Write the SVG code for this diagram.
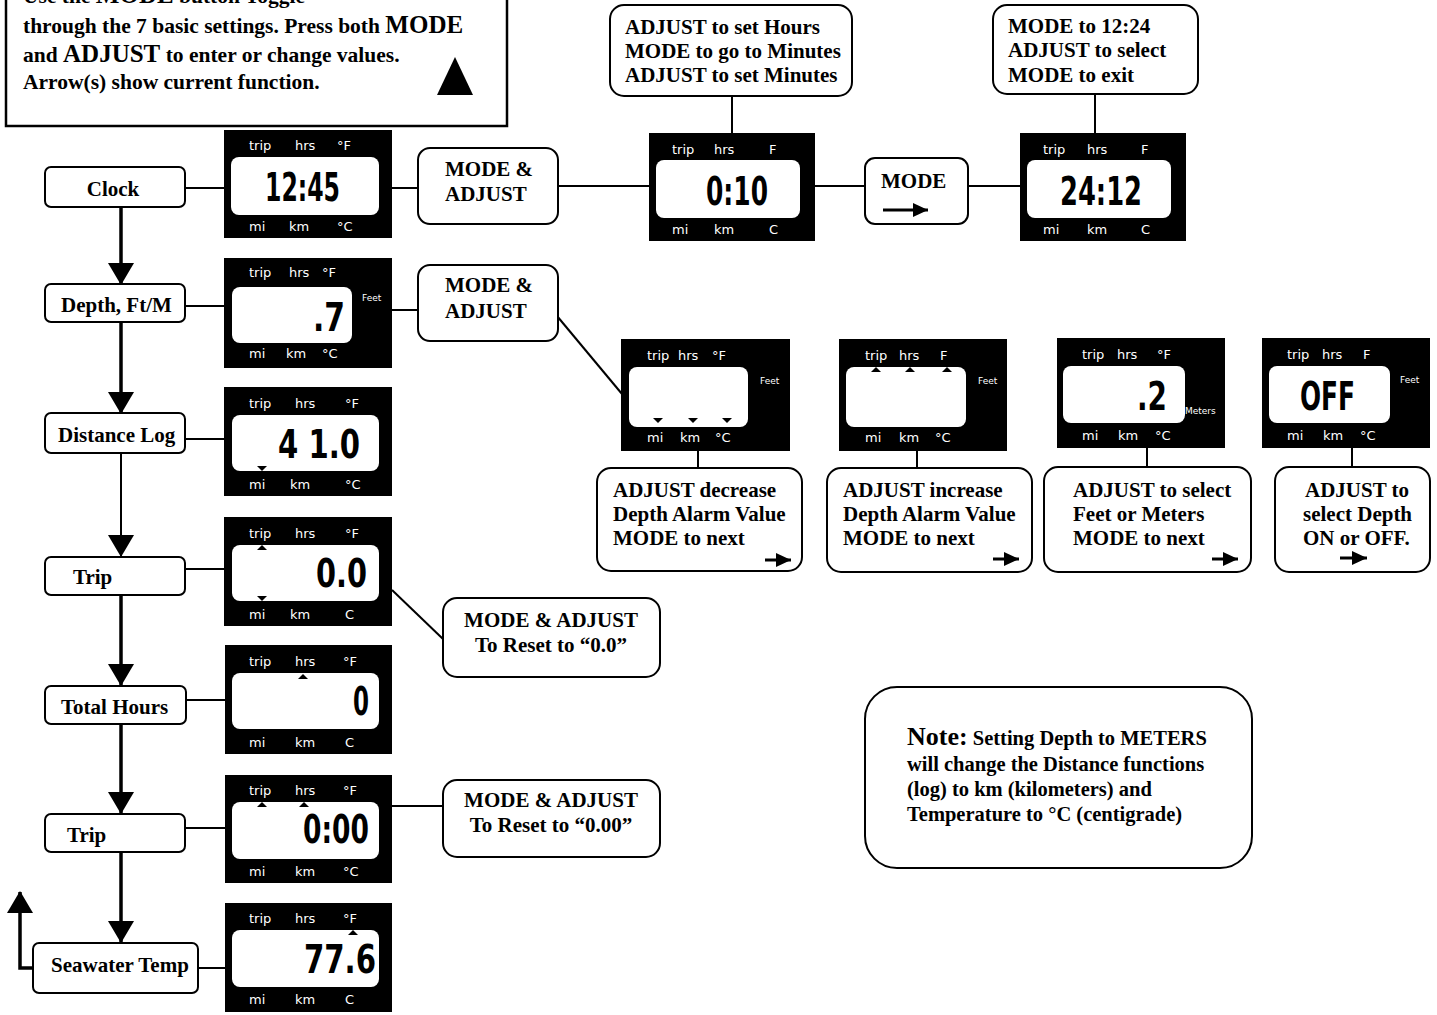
<svg xmlns="http://www.w3.org/2000/svg" width="1437" height="1015" viewBox="0 0 1437 1015">
<defs>
<style>
.bg{fill:#fff}
.box{fill:#fff;stroke:#000;stroke-width:2}
.t{font-family:"Liberation Serif","Times New Roman",serif;font-weight:bold;font-size:21px;fill:#000}
.big{font-size:25px}
.lcd{fill:#000}
.scr{fill:#fff}
.lbl{font-family:"DejaVu Sans","Open Sans",sans-serif;font-size:13px;fill:#fff}
.tiny{font-family:"DejaVu Sans",sans-serif;font-size:9px;fill:#fff}
.dig{font-family:"Liberation Sans Narrow","DejaVu Sans Condensed","DejaVu Sans",sans-serif;font-weight:bold;font-size:39px;fill:#000}
.ind{fill:#000}
.ln{stroke:#000;stroke-width:2;fill:none}
.th{stroke:#000;stroke-width:3.5;fill:none}
.sa{stroke:#000;stroke-width:3;fill:none}
</style>
<marker id="bigArrow" viewBox="0 0 22 26" refX="21" refY="13" markerWidth="22" markerHeight="26" markerUnits="userSpaceOnUse" orient="auto">
<path d="M0,0 L22,13 L0,26 Z" fill="#000"/>
</marker>
<marker id="smArrow" viewBox="0 0 15 14" refX="15" refY="7" markerWidth="15" markerHeight="14" markerUnits="userSpaceOnUse" orient="auto">
<path d="M0,0 L15,7 L0,14 Z" fill="#000"/>
</marker>
</defs>
<rect class="bg" x="0" y="0" width="1437" height="1015"/>

<!-- Instruction box -->
<g id="instructions">
<rect x="6" y="-10" width="501" height="136" fill="#fff" stroke="#000" stroke-width="2.5"/>
<text class="t" x="23" y="3" style="font-size:21.5px">Use the <tspan class="big">MODE</tspan> button Toggle</text>
<text class="t" x="23" y="33" style="font-size:21.5px">through the 7 basic settings. Press both <tspan class="big">MODE</tspan></text>
<text class="t" x="23" y="62" style="font-size:21.5px">and <tspan class="big">ADJUST</tspan> to enter or change values.</text>
<text class="t" x="23" y="89" style="font-size:21.5px">Arrow(s) show current function.</text>
<polygon points="455,57 437,95 473,95" fill="#000"/>
</g>

<!-- Connectors -->
<g id="connectors">
<line class="th" x1="121" y1="207" x2="121" y2="284" marker-end="url(#bigArrow)"/>
<line class="th" x1="121" y1="322" x2="121" y2="413" marker-end="url(#bigArrow)"/>
<line class="ln" x1="121" y1="453" x2="121" y2="556" marker-end="url(#bigArrow)"/>
<line class="th" x1="121" y1="595" x2="121" y2="685" marker-end="url(#bigArrow)"/>
<line class="th" x1="121" y1="724" x2="121" y2="813" marker-end="url(#bigArrow)"/>
<line class="th" x1="121" y1="852" x2="121" y2="942" marker-end="url(#bigArrow)"/>
<path class="th" d="M33,968 H20 V892" marker-end="url(#bigArrow)"/>
<line class="ln" x1="185" y1="188" x2="224" y2="188"/>
<line class="ln" x1="185" y1="306" x2="224" y2="306"/>
<line class="ln" x1="185" y1="439" x2="224" y2="439"/>
<line class="ln" x1="185" y1="569" x2="224" y2="569"/>
<line class="ln" x1="186" y1="700" x2="225" y2="700"/>
<line class="ln" x1="185" y1="828" x2="225" y2="828"/>
<line class="ln" x1="198" y1="968" x2="225" y2="968"/>
<line class="ln" x1="392" y1="188" x2="418" y2="188"/>
<line class="ln" x1="558" y1="186" x2="649" y2="186"/>
<line class="ln" x1="815" y1="186" x2="865" y2="186"/>
<line class="ln" x1="968" y1="186" x2="1020" y2="186"/>
<line class="ln" x1="732" y1="96" x2="732" y2="133"/>
<line class="ln" x1="1095" y1="94" x2="1095" y2="133"/>
<line class="ln" x1="392" y1="310" x2="418" y2="310"/>
<line class="ln" x1="557" y1="316" x2="622" y2="394"/>
<line class="ln" x1="698" y1="451" x2="698" y2="468"/>
<line class="ln" x1="917" y1="451" x2="917" y2="468"/>
<line class="ln" x1="1147" y1="448" x2="1147" y2="467"/>
<line class="ln" x1="1352" y1="448" x2="1352" y2="467"/>
<line class="ln" x1="392" y1="590" x2="443" y2="639"/>
<line class="ln" x1="392" y1="806" x2="443" y2="806"/>
</g>

<!-- Left column nodes -->
<g id="node-clock"><rect class="box" x="45" y="167" width="140" height="40" rx="6"/><text class="t" x="113" y="196" text-anchor="middle">Clock</text></g>
<g id="node-depth"><rect class="box" x="45" y="284" width="140" height="38" rx="6"/><text class="t" x="61" y="312">Depth, Ft/M</text></g>
<g id="node-distance"><rect class="box" x="45" y="413" width="140" height="40" rx="6"/><text class="t" x="58" y="442">Distance Log</text></g>
<g id="node-trip"><rect class="box" x="45" y="557" width="140" height="38" rx="6"/><text class="t" x="73" y="584">Trip</text></g>
<g id="node-total"><rect class="box" x="45" y="686" width="141" height="38" rx="6"/><text class="t" x="61" y="714">Total Hours</text></g>
<g id="node-trip2"><rect class="box" x="45" y="814" width="140" height="38" rx="6"/><text class="t" x="67" y="842">Trip</text></g>
<g id="node-seawater"><rect class="box" x="33" y="943" width="165" height="50" rx="6"/><text class="t" x="51" y="972">Seawater Temp</text></g>

<!-- LCDs -->
<g id="lcd-clock">
<rect class="lcd" x="224" y="130" width="168" height="108"/>
<rect class="scr" x="231" y="157" width="148" height="58" rx="8"/>
<text class="lbl" x="249" y="150">trip</text><text class="lbl" x="295" y="150">hrs</text><text class="lbl" x="337" y="150">°F</text>
<text class="lbl" x="249" y="231">mi</text><text class="lbl" x="289" y="231">km</text><text class="lbl" x="337" y="231">°C</text>
<text class="dig" x="265" y="201" textLength="75" lengthAdjust="spacingAndGlyphs">12:45</text>
</g>
<g id="lcd-depth">
<rect class="lcd" x="224" y="258" width="168" height="110"/>
<rect class="scr" x="232" y="287" width="120" height="56" rx="8"/>
<text class="lbl" x="249" y="277">trip</text><text class="lbl" x="289" y="277">hrs</text><text class="lbl" x="322" y="277">°F</text>
<text class="lbl" x="249" y="358">mi</text><text class="lbl" x="286" y="358">km</text><text class="lbl" x="322" y="358">°C</text>
<text class="tiny" x="362" y="301">Feet</text>
<text class="dig" x="313" y="331" textLength="32" lengthAdjust="spacingAndGlyphs">.7</text>
</g>
<g id="lcd-distance">
<rect class="lcd" x="224" y="387" width="168" height="109"/>
<rect class="scr" x="232" y="415" width="147" height="56" rx="8"/>
<text class="lbl" x="249" y="408">trip</text><text class="lbl" x="295" y="408">hrs</text><text class="lbl" x="345" y="408">°F</text>
<text class="lbl" x="249" y="489">mi</text><text class="lbl" x="290" y="489">km</text><text class="lbl" x="345" y="489">°C</text>
<polygon class="ind" points="257,466 267,466 262,471"/>
<text class="dig" x="278" y="458" textLength="82" lengthAdjust="spacingAndGlyphs">4 1.0</text>
</g>
<g id="lcd-trip">
<rect class="lcd" x="224" y="517" width="168" height="109"/>
<rect class="scr" x="232" y="545" width="147" height="56" rx="8"/>
<text class="lbl" x="249" y="538">trip</text><text class="lbl" x="295" y="538">hrs</text><text class="lbl" x="345" y="538">°F</text>
<text class="lbl" x="249" y="619">mi</text><text class="lbl" x="290" y="619">km</text><text class="lbl" x="345" y="619">C</text>
<polygon class="ind" points="262,545 257,550 267,550"/>
<polygon class="ind" points="257,596 267,596 262,601"/>
<text class="dig" x="316" y="587" textLength="51" lengthAdjust="spacingAndGlyphs">0.0</text>
</g>
<g id="lcd-total">
<rect class="lcd" x="225" y="645" width="167" height="109"/>
<rect class="scr" x="232" y="673" width="147" height="56" rx="8"/>
<text class="lbl" x="249" y="666">trip</text><text class="lbl" x="295" y="666">hrs</text><text class="lbl" x="343" y="666">°F</text>
<text class="lbl" x="249" y="747">mi</text><text class="lbl" x="295" y="747">km</text><text class="lbl" x="345" y="747">C</text>
<polygon class="ind" points="303,674 298,679 308,679"/>
<text class="dig" x="353" y="715" textLength="16" lengthAdjust="spacingAndGlyphs">0</text>
</g>
<g id="lcd-trip2">
<rect class="lcd" x="225" y="775" width="167" height="108"/>
<rect class="scr" x="232" y="802" width="147" height="57" rx="8"/>
<text class="lbl" x="249" y="795">trip</text><text class="lbl" x="295" y="795">hrs</text><text class="lbl" x="343" y="795">°F</text>
<text class="lbl" x="249" y="876">mi</text><text class="lbl" x="295" y="876">km</text><text class="lbl" x="343" y="876">°C</text>
<polygon class="ind" points="262,802 257,807 267,807"/>
<polygon class="ind" points="304,802 299,807 309,807"/>
<text class="dig" x="303" y="843" textLength="66" lengthAdjust="spacingAndGlyphs">0:00</text>
</g>
<g id="lcd-seawater">
<rect class="lcd" x="225" y="903" width="167" height="109"/>
<rect class="scr" x="232" y="930" width="147" height="57" rx="8"/>
<text class="lbl" x="249" y="923">trip</text><text class="lbl" x="295" y="923">hrs</text><text class="lbl" x="343" y="923">°F</text>
<text class="lbl" x="249" y="1004">mi</text><text class="lbl" x="295" y="1004">km</text><text class="lbl" x="345" y="1004">C</text>
<polygon class="ind" points="353,930 348,935 358,935"/>
<text class="dig" x="304" y="973" textLength="72" lengthAdjust="spacingAndGlyphs">77.6</text>
</g>
<g id="lcd-hours">
<rect class="lcd" x="649" y="133" width="166" height="108"/>
<rect class="scr" x="656" y="160" width="144" height="58" rx="8"/>
<text class="lbl" x="672" y="154">trip</text><text class="lbl" x="714" y="154">hrs</text><text class="lbl" x="769" y="154">F</text>
<text class="lbl" x="672" y="234">mi</text><text class="lbl" x="714" y="234">km</text><text class="lbl" x="769" y="234">C</text>
<text class="dig" x="706" y="205" textLength="62" lengthAdjust="spacingAndGlyphs">0:10</text>
</g>
<g id="lcd-24h">
<rect class="lcd" x="1020" y="133" width="166" height="108"/>
<rect class="scr" x="1027" y="160" width="144" height="58" rx="8"/>
<text class="lbl" x="1043" y="154">trip</text><text class="lbl" x="1087" y="154">hrs</text><text class="lbl" x="1141" y="154">F</text>
<text class="lbl" x="1043" y="234">mi</text><text class="lbl" x="1087" y="234">km</text><text class="lbl" x="1141" y="234">C</text>
<text class="dig" x="1060" y="205" textLength="82" lengthAdjust="spacingAndGlyphs">24:12</text>
</g>
<g id="lcd-alarm-dec">
<rect class="lcd" x="621" y="339" width="169" height="112"/>
<rect class="scr" x="629" y="367" width="119" height="60" rx="8"/>
<text class="lbl" x="647" y="360">trip</text><text class="lbl" x="678" y="360">hrs</text><text class="lbl" x="712" y="360">°F</text>
<text class="lbl" x="647" y="442">mi</text><text class="lbl" x="680" y="442">km</text><text class="lbl" x="715" y="442">°C</text>
<text class="tiny" x="760" y="384">Feet</text>
<polygon class="ind" points="653,418 663,418 658,423"/>
<polygon class="ind" points="688,418 698,418 693,423"/>
<polygon class="ind" points="722,418 732,418 727,423"/>
</g>
<g id="lcd-alarm-inc">
<rect class="lcd" x="839" y="339" width="168" height="112"/>
<rect class="scr" x="846" y="367" width="120" height="60" rx="8"/>
<text class="lbl" x="865" y="360">trip</text><text class="lbl" x="899" y="360">hrs</text><text class="lbl" x="940" y="360">F</text>
<text class="lbl" x="865" y="442">mi</text><text class="lbl" x="899" y="442">km</text><text class="lbl" x="935" y="442">°C</text>
<text class="tiny" x="978" y="384">Feet</text>
<polygon class="ind" points="876,367 871,372 881,372"/>
<polygon class="ind" points="910,367 905,372 915,372"/>
<polygon class="ind" points="947,367 942,372 952,372"/>
</g>
<g id="lcd-units">
<rect class="lcd" x="1057" y="338" width="168" height="110"/>
<rect class="scr" x="1063" y="366" width="122" height="57" rx="8"/>
<text class="lbl" x="1082" y="359">trip</text><text class="lbl" x="1117" y="359">hrs</text><text class="lbl" x="1157" y="359">°F</text>
<text class="lbl" x="1082" y="440">mi</text><text class="lbl" x="1118" y="440">km</text><text class="lbl" x="1155" y="440">°C</text>
<text class="tiny" x="1185" y="414">Meters</text>
<text class="dig" x="1137" y="410" textLength="30" lengthAdjust="spacingAndGlyphs">.2</text>
</g>
<g id="lcd-onoff">
<rect class="lcd" x="1262" y="338" width="168" height="110"/>
<rect class="scr" x="1269" y="366" width="121" height="57" rx="8"/>
<text class="lbl" x="1287" y="359">trip</text><text class="lbl" x="1322" y="359">hrs</text><text class="lbl" x="1363" y="359">F</text>
<text class="lbl" x="1287" y="440">mi</text><text class="lbl" x="1323" y="440">km</text><text class="lbl" x="1360" y="440">°C</text>
<text class="tiny" x="1400" y="383">Feet</text>
<text class="dig" x="1300" y="410" textLength="55" lengthAdjust="spacingAndGlyphs">OFF</text>
</g>

<!-- Action boxes / callouts -->
<g id="box-mode-adjust-1"><rect class="box" x="418" y="148" width="140" height="76" rx="12"/><text class="t" x="445" y="176">MODE &amp;</text><text class="t" x="445" y="201">ADJUST</text></g>
<g id="box-mode-adjust-2"><rect class="box" x="418" y="265" width="140" height="76" rx="12"/><text class="t" x="445" y="292">MODE &amp;</text><text class="t" x="445" y="318">ADJUST</text></g>
<g id="box-mode"><rect class="box" x="865" y="158" width="103" height="66" rx="10"/><text class="t" x="881" y="188">MODE</text><line class="sa" x1="883" y1="210" x2="928" y2="210" marker-end="url(#smArrow)"/></g>
<g id="callout-hours"><rect class="box" x="610" y="5" width="242" height="91" rx="14"/><text class="t" x="625" y="34">ADJUST to set Hours</text><text class="t" x="625" y="58">MODE to go to Minutes</text><text class="t" x="625" y="82">ADJUST to set Minutes</text></g>
<g id="callout-1224"><rect class="box" x="993" y="5" width="205" height="89" rx="14"/><text class="t" x="1008" y="33">MODE to 12:24</text><text class="t" x="1008" y="57">ADJUST to select</text><text class="t" x="1008" y="82">MODE to exit</text></g>
<g id="callout-dec"><rect class="box" x="597" y="468" width="205" height="103" rx="14"/><text class="t" x="613" y="497">ADJUST decrease</text><text class="t" x="613" y="521">Depth Alarm Value</text><text class="t" x="613" y="545">MODE to next</text><line class="sa" x1="765" y1="560" x2="791" y2="560" marker-end="url(#smArrow)"/></g>
<g id="callout-inc"><rect class="box" x="827" y="468" width="205" height="104" rx="14"/><text class="t" x="843" y="497">ADJUST increase</text><text class="t" x="843" y="521">Depth Alarm Value</text><text class="t" x="843" y="545">MODE to next</text><line class="sa" x1="993" y1="559" x2="1019" y2="559" marker-end="url(#smArrow)"/></g>
<g id="callout-units"><rect class="box" x="1044" y="467" width="207" height="105" rx="14"/><text class="t" x="1073" y="497">ADJUST to select</text><text class="t" x="1073" y="521">Feet or Meters</text><text class="t" x="1073" y="545">MODE to next</text><line class="sa" x1="1212" y1="559" x2="1238" y2="559" marker-end="url(#smArrow)"/></g>
<g id="callout-onoff"><rect class="box" x="1275" y="467" width="155" height="105" rx="14"/><text class="t" x="1305" y="497">ADJUST to</text><text class="t" x="1303" y="521">select Depth</text><text class="t" x="1303" y="545">ON or OFF.</text><line class="sa" x1="1340" y1="558" x2="1367" y2="558" marker-end="url(#smArrow)"/></g>
<g id="callout-reset-trip"><rect class="box" x="443" y="598" width="217" height="79" rx="14"/><text class="t" x="551" y="627" text-anchor="middle">MODE &amp; ADJUST</text><text class="t" x="551" y="652" text-anchor="middle">To Reset to “0.0”</text></g>
<g id="callout-reset-trip2"><rect class="box" x="443" y="780" width="217" height="77" rx="14"/><text class="t" x="551" y="807" text-anchor="middle">MODE &amp; ADJUST</text><text class="t" x="551" y="832" text-anchor="middle">To Reset to “0.00”</text></g>
<g id="note"><rect class="box" x="865" y="687" width="387" height="181" rx="32"/>
<text class="t" x="907" y="745" style="font-size:20.5px"><tspan style="font-size:26px">Note:</tspan> Setting Depth to METERS</text>
<text class="t" x="907" y="771" style="font-size:20.5px">will change the Distance functions</text>
<text class="t" x="907" y="796" style="font-size:20.5px">(log) to km (kilometers) and</text>
<text class="t" x="907" y="821" style="font-size:20.5px">Temperature to °C (centigrade)</text>
</g>
</svg>
